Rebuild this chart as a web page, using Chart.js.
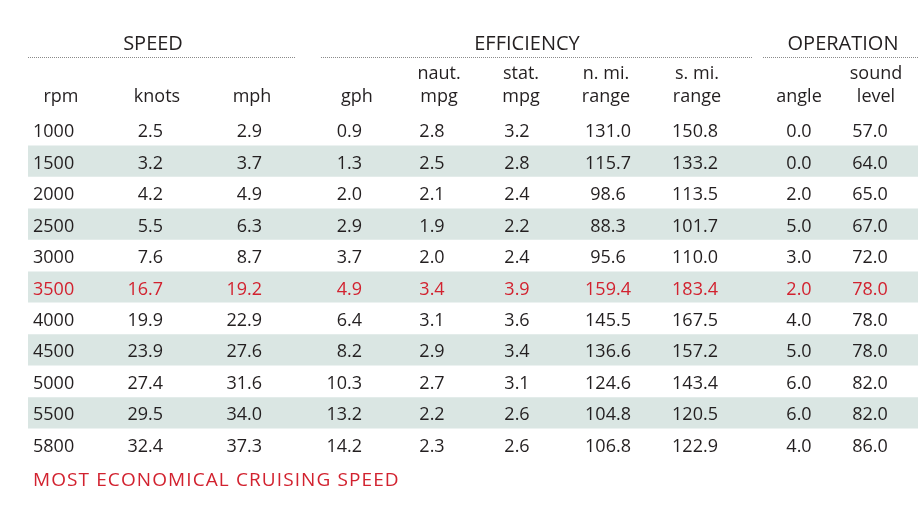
<!DOCTYPE html>
<html>
<head>
<meta charset="utf-8">
<script src="https://cdn.jsdelivr.net/npm/chart.js@4.4.1/dist/chart.umd.min.js"></script>
<style>
  html, body { margin: 0; padding: 0; background: #ffffff; }
  #wrap { width: 919px; height: 520px; position: relative; }
</style>
</head>
<body>
<div id="wrap"><canvas id="perf"></canvas></div>
<script>
// table values, one array per column
const rpm = ["1000", "1500", "2000", "2500", "3000", "3500", "4000", "4500", "5000", "5500", "5800"];
const knots = [2.5, 3.2, 4.2, 5.5, 7.6, 16.7, 19.9, 23.9, 27.4, 29.5, 32.4];
const mph = [2.9, 3.7, 4.9, 6.3, 8.7, 19.2, 22.9, 27.6, 31.6, 34.0, 37.3];
const gph = [0.9, 1.3, 2.0, 2.9, 3.7, 4.9, 6.4, 8.2, 10.3, 13.2, 14.2];
const nautMpg = [2.8, 2.5, 2.1, 1.9, 2.0, 3.4, 3.1, 2.9, 2.7, 2.2, 2.3];
const statMpg = [3.2, 2.8, 2.4, 2.2, 2.4, 3.9, 3.6, 3.4, 3.1, 2.6, 2.6];
const nmiRange = [131.0, 115.7, 98.6, 88.3, 95.6, 159.4, 145.5, 136.6, 124.6, 104.8, 106.8];
const smiRange = [150.8, 133.2, 113.5, 101.7, 110.0, 183.4, 167.5, 157.2, 143.4, 120.5, 122.9];
const angle = [0.0, 0.0, 2.0, 5.0, 3.0, 2.0, 4.0, 5.0, 6.0, 6.0, 4.0];
const soundLevel = [57.0, 64.0, 65.0, 67.0, 72.0, 78.0, 78.0, 78.0, 82.0, 82.0, 86.0];

const groupTitles = ["SPEED", "EFFICIENCY", "OPERATION"];
const footNote = "MOST ECONOMICAL CRUISING SPEED";
const cruiseRow = "3500";

const FONT = '"Open Sans", "Noto Sans", sans-serif';
const INK = "#231f20";
const RED = "#d2222f";
const BAND = "#dae6e3";

// layout of the columns (x in pixels of the 919 wide x scale)
const columns = [
  { head: ["", "rpm"], headX: 61, values: rpm, x: 33, align: "left", digits: -1 },
  { head: ["", "knots"], headX: 157, values: knots, x: 163, align: "right", digits: 1 },
  { head: ["", "mph"], headX: 252, values: mph, x: 262, align: "right", digits: 1 },
  { head: ["", "gph"], headX: 357, values: gph, x: 362, align: "right", digits: 1 },
  { head: ["naut.", "mpg"], headX: 439, values: nautMpg, x: 432, align: "center", digits: 1 },
  { head: ["stat.", "mpg"], headX: 521, values: statMpg, x: 517, align: "center", digits: 1 },
  { head: ["n. mi.", "range"], headX: 606, values: nmiRange, x: 608, align: "center", digits: 1 },
  { head: ["s. mi.", "range"], headX: 697, values: smiRange, x: 695, align: "center", digits: 1 },
  { head: ["", "angle"], headX: 799, values: angle, x: 799, align: "center", digits: 1 },
  { head: ["sound", "level"], headX: 876, values: soundLevel, x: 870, align: "center", digits: 1 }
];

const groups = [
  { x: 153, from: 28, to: 296 },
  { x: 527, from: 321, to: 752 },
  { x: 843, from: 763, to: 919 }
];

// shaded band on every second row
function bandData()
{
  var out = [];
  for (var i = 0; i < rpm.length; i++)
  {
    if (i % 2 === 1)
      out.push([28, 918]);
    else
      out.push(null);
  }
  return out;
}

function fmt(v, digits)
{
  if (digits < 0)
    return String(v);
  return Number(v).toFixed(digits);
}

const tablePlugin = {
  id: "tableText",
  afterDatasetsDraw(chart) {
    const ctx = chart.ctx;
    const xs = chart.scales.x;
    const ys = chart.scales.y;
    ctx.save();
    ctx.textBaseline = "alphabetic";

    // group titles with dotted rules
    ctx.font = "20px " + FONT;
    ctx.fillStyle = INK;
    ctx.textAlign = "center";
    groups.forEach(function (g, i) {
      ctx.fillText(groupTitles[i], xs.getPixelForValue(g.x), 50);
      ctx.strokeStyle = "#8a8a8a";
      ctx.lineWidth = 1;
      ctx.setLineDash([1, 1]);
      ctx.beginPath();
      ctx.moveTo(xs.getPixelForValue(g.from), 57.5);
      ctx.lineTo(xs.getPixelForValue(g.to), 57.5);
      ctx.stroke();
    });
    ctx.setLineDash([]);

    // column heads
    ctx.font = "18px " + FONT;
    columns.forEach(function (c) {
      ctx.textAlign = "center";
      ctx.fillStyle = INK;
      if (c.head[0])
        ctx.fillText(c.head[0], xs.getPixelForValue(c.headX), 79);
      ctx.fillText(c.head[1], xs.getPixelForValue(c.headX), 102);
    });

    // cells
    for (var r = 0; r < rpm.length; r++)
    {
      const y = ys.getPixelForValue(r) + 7.5;
      ctx.fillStyle = rpm[r] === cruiseRow ? RED : INK;
      columns.forEach(function (c) {
        ctx.textAlign = c.align;
        ctx.fillText(fmt(c.values[r], c.digits), xs.getPixelForValue(c.x), y);
      });
    }

    // footnote
    ctx.fillStyle = RED;
    ctx.textAlign = "left";
    ctx.font = "19px " + FONT;
    ctx.letterSpacing = "1.1px";
    ctx.fillText(footNote, 33, 486);
    ctx.restore();
  }
};

new Chart(document.getElementById("perf"), {
  type: "bar",
  data: {
    labels: rpm,
    datasets: [{
      data: bandData(),
      backgroundColor: BAND,
      borderWidth: 0,
      barPercentage: 0.99,
      categoryPercentage: 1.0
    }]
  },
  options: {
    indexAxis: "y",
    responsive: true,
    maintainAspectRatio: false,
    animation: false,
    layout: { padding: { top: 114, bottom: 60, left: 0, right: 0 } },
    scales: {
      x: { type: "linear", min: 0, max: 919, display: false },
      y: { type: "category", display: false, offset: true }
    },
    plugins: {
      legend: { display: false },
      tooltip: { enabled: false }
    }
  },
  plugins: [tablePlugin]
});
</script>
</body>
</html>
